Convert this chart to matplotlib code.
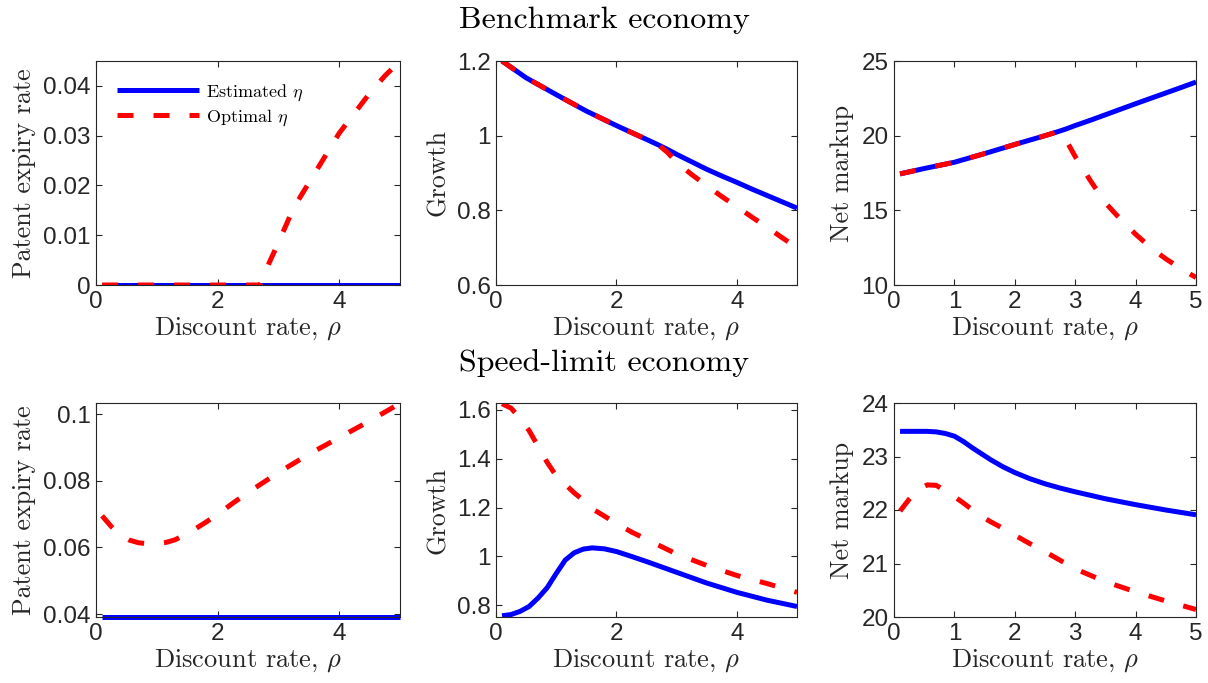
import matplotlib
matplotlib.use("Agg")
import matplotlib.pyplot as plt
from matplotlib.ticker import FuncFormatter

plt.rcParams["mathtext.fontset"] = "cm"
plt.rcParams["font.family"] = ["Liberation Sans", "DejaVu Sans"]
plt.rcParams["axes.formatter.use_mathtext"] = False

# ---- Benchmark economy ----
rho_bench = [0.1, 0.5, 1.0, 1.5, 2.0, 2.5, 2.7, 2.85, 3.0, 3.25, 3.5, 3.75, 4.0, 4.25, 4.5, 4.75, 5.0]
bench_eta_est = [0.0] * 17
bench_eta_opt = [0, 0, 0, 0, 0, 0, 0, 0.0045, 0.0085, 0.0155, 0.0205, 0.0255, 0.0305, 0.0345, 0.0385, 0.042, 0.045]
bench_growth_est = [1.2, 1.155, 1.11, 1.066, 1.027, 0.99, 0.975, 0.963, 0.95, 0.93, 0.91, 0.892, 0.875, 0.857, 0.84, 0.823, 0.806]
bench_growth_opt = [1.2, 1.155, 1.11, 1.066, 1.027, 0.99, 0.975, 0.955, 0.928, 0.896, 0.866, 0.837, 0.81, 0.782, 0.755, 0.727, 0.70]
bench_markup_est = [17.44, 17.8, 18.22, 18.8, 19.41, 20.0, 20.25, 20.45, 20.68, 21.03, 21.4, 21.77, 22.14, 22.5, 22.86, 23.22, 23.59]
bench_markup_opt = [17.44, 17.8, 18.22, 18.8, 19.41, 20.0, 20.25, 19.7, 18.6, 17.0, 15.5, 14.4, 13.4, 12.5, 11.75, 11.1, 10.5]

# ---- Speed-limit economy ----
rho_speed = [0.1, 0.25, 0.4, 0.55, 0.7, 0.85, 1.0, 1.15, 1.3, 1.45, 1.6, 1.8, 2.0, 2.25, 2.5, 2.75, 3.0, 3.5, 4.0, 4.5, 5.0]
speed_eta_est = [0.0392] * 21
speed_eta_opt = [0.0695, 0.0663, 0.0638, 0.0622, 0.0614, 0.0611, 0.0611, 0.0615, 0.0623, 0.0637, 0.0652,
                 0.0675, 0.0699, 0.0733, 0.0765, 0.0795, 0.0825, 0.0880, 0.0930, 0.0980, 0.1033]
speed_growth_est = [0.757, 0.762, 0.775, 0.795, 0.83, 0.872, 0.93, 0.985, 1.015, 1.03, 1.035,
                    1.031, 1.02, 1.0, 0.979, 0.957, 0.935, 0.891, 0.853, 0.821, 0.795]
speed_growth_opt = [1.625, 1.607, 1.565, 1.515, 1.45, 1.385, 1.33, 1.295, 1.26, 1.23, 1.195,
                    1.165, 1.135, 1.1, 1.07, 1.04, 1.01, 0.963, 0.922, 0.889, 0.853]
speed_markup_est = [23.47, 23.47, 23.47, 23.47, 23.46, 23.43, 23.38, 23.28, 23.16, 23.05, 22.94,
                    22.81, 22.70, 22.585, 22.49, 22.41, 22.34, 22.21, 22.1, 22.0, 21.91]
speed_markup_opt = [21.98, 22.2, 22.38, 22.47, 22.46, 22.36, 22.25, 22.13, 22.0, 21.88, 21.78,
                    21.66, 21.53, 21.37, 21.22, 21.06, 20.9, 20.66, 20.47, 20.3, 20.14]

ylabels = ["Patent expiry rate", "Growth", "Net markup"]
xlabel = r"Discount rate, $\rho$"
legend_labels = [r"Estimated $\eta$", r"Optimal $\eta$"]
row_titles = ["Benchmark economy", "Speed-limit economy"]

BLUE = (0, 0, 1)
RED = (1, 0, 0)
EDGE = "#262626"
SERIF = "cmr10"

fig = plt.figure(figsize=(12.08, 6.83), dpi=100)
W, H = 1208, 683


def add_axes(left, top, right, bottom):
    return fig.add_axes([left / W, 1 - bottom / H, (right - left) / W, (bottom - top) / H])


cols = [(96, 400), (496, 797), (894, 1196)]
rows = [(61, 285), (403, 617)]

fmt = FuncFormatter(lambda v, p: "%g" % v)

panels = [
    (rho_bench, bench_eta_est, bench_eta_opt, (0, 0.045), [0, 0.01, 0.02, 0.03, 0.04], [0, 2, 4]),
    (rho_bench, bench_growth_est, bench_growth_opt, (0.6, 1.2), [0.6, 0.8, 1.0, 1.2], [0, 2, 4]),
    (rho_bench, bench_markup_est, bench_markup_opt, (10, 25), [10, 15, 20, 25], [0, 1, 2, 3, 4, 5]),
    (rho_speed, speed_eta_est, speed_eta_opt, (0.0391, 0.1034), [0.04, 0.06, 0.08, 0.1], [0, 2, 4]),
    (rho_speed, speed_growth_est, speed_growth_opt, (0.752, 1.628), [0.8, 1.0, 1.2, 1.4, 1.6], [0, 2, 4]),
    (rho_speed, speed_markup_est, speed_markup_opt, (20, 24), [20, 21, 22, 23, 24], [0, 1, 2, 3, 4, 5]),
]

LW = 3.6
axes = []
for i, (x, est, opt, ylim, yt, xt) in enumerate(panels):
    r, c = divmod(i, 3)
    ax = add_axes(cols[c][0], rows[r][0], cols[c][1], rows[r][1])
    axes.append(ax)
    ax.plot(x, est, color=BLUE, lw=LW, solid_capstyle="butt", label=legend_labels[0],
            clip_on=not (r == 1 and c == 0))
    ax.plot(x, opt, color=RED, lw=LW, dashes=(3.2, 4.0), dash_capstyle="butt",
            label=legend_labels[1])
    ax.set_xlim(0, 5)
    ax.set_ylim(*ylim)
    ax.set_xticks(xt)
    ax.set_yticks(yt)
    ax.xaxis.set_major_formatter(fmt)
    ax.yaxis.set_major_formatter(fmt)
    ax.tick_params(direction="in", length=4, width=0.8, top=True, right=True,
                   labelsize=17.5, colors=EDGE, pad=4)
    for s in ax.spines.values():
        s.set_color(EDGE)
        s.set_linewidth(0.8)
    ax.set_xlabel(xlabel, fontsize=19, family=SERIF, color=EDGE, labelpad=2)
    ax.set_ylabel(ylabels[c], fontsize=18.7, family=SERIF, color=EDGE, labelpad=5)

leg = axes[0].legend(loc="upper left", bbox_to_anchor=(0.07, 0.905), frameon=False,
                     prop={"family": SERIF, "size": 13},
                     handlelength=4.5, handletextpad=0.4, labelspacing=0.25,
                     borderpad=0, borderaxespad=0)

fig.text(0.5, 1 - 20 / H, row_titles[0], ha="center", va="center", fontsize=23, family=SERIF, color="black")
fig.text(0.5, 1 - 363 / H, row_titles[1], ha="center", va="center", fontsize=23, family=SERIF, color="black")

fig.savefig("out.png", dpi=100)
